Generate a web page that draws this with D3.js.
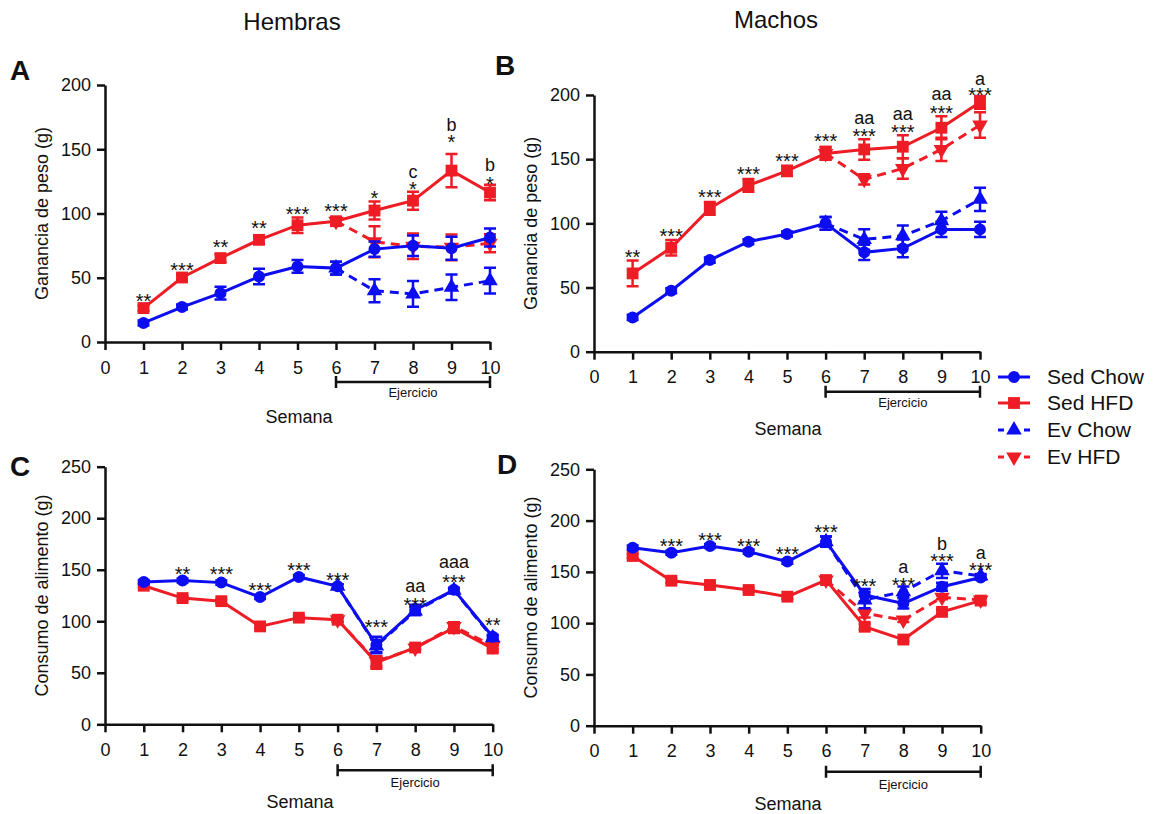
<!DOCTYPE html>
<html>
<head>
<meta charset="utf-8">
<script src="https://cdn.jsdelivr.net/npm/d3@7"></script>
<style>
    body { margin: 0; background: #fff; }
    text { font-family: "Liberation Sans", Arial, sans-serif; fill: #111; }
</style>
</head>
<body>
<div id="chart"></div>
<script>
// semanas
var weeks = [1, 2, 3, 4, 5, 6, 7, 8, 9, 10];
var evWeeks = [6, 7, 8, 9, 10];
var xTicks = [0, 1, 2, 3, 4, 5, 6, 7, 8, 9, 10];
var pesoTicks = [0, 50, 100, 150, 200];
var consumoTicks = [0, 50, 100, 150, 200, 250];

// A - Hembras, ganancia de peso
var aSedChow = [14.8, 27.2, 38, 51, 58.8, 57.5, 72.3, 74.9, 73, 81.3];
var aSedChowErr = [2, 2, 5, 6, 5, 5, 6, 8, 9, 7];
var aSedHfd = [26.4, 50.2, 65.3, 79.5, 90.9, 94, 102.3, 110, 133.4, 116.3];
var aSedHfdErr = [2, 2, 3, 3, 6, 3, 7, 7, 13, 6];
var aEvChow = [57.5, 39.9, 37.4, 42.6, 47.7];
var aEvChowErr = [5, 9, 10, 10, 10];
var aEvHfd = [94, 78, 74.5, 73.7, 76.8];
var aEvHfdErr = [3, 12, 10, 10, 7];
var aStars = [[1, "**", 26.2], [2, "***", 50.6], [3, "**", 68.6], [4, "**", 82.9], [5, "***", 94.1],
    [6, "***", 96.7], [7, "*", 107], [8, "*", 113.6], [9, "*", 149.9], [10, "*", 117.5]];
var aLetters = [[8, "c", 127.4], [9, "b", 164.4], [10, "b", 133.3]];

// B - Machos, ganancia de peso
var bSedChow = [26.7, 47.5, 71.4, 85.7, 91.7, 100, 77.4, 80.5, 95.3, 95.3];
var bSedChowErr = [2, 2, 2, 2, 2, 5, 6, 7, 6, 6];
var bSedHfd = [61, 81, 111.7, 129.6, 140.8, 154.5, 157.6, 159.7, 174.5, 194.3];
var bSedHfdErr = [10, 6, 5, 5, 4, 5, 8, 9, 9, 5];
var bEvChow = [100, 87.5, 90.4, 102, 118.7];
var bEvChowErr = [5, 8, 8, 7, 9];
var bEvHfd = [154.5, 134.3, 142.8, 157.6, 176.6];
var bEvHfdErr = [5, 4, 8, 9, 10];
var bStars = [[1, "**", 68], [2, "***", 84.9], [3, "***", 115.3], [4, "***", 133], [5, "***", 142.8],
    [6, "***", 158.4], [7, "***", 162.3], [8, "***", 165.7], [9, "***", 180.2], [10, "***", 194.3]];
var bLetters = [[7, "aa", 177.4], [8, "aa", 180.5], [9, "aa", 196.1], [10, "a", 207.8]];

// C - Hembras, consumo de alimento
var cSedChow = [138, 139.5, 137.5, 123.5, 143, 134, 77, 111, 130.5, 85];
var cSedChowErr = [2, 2, 2, 2, 2, 2, 8, 5, 2, 2];
var cSedHfd = [134.5, 122.5, 119.5, 95, 103.5, 101.5, 60, 74.5, 93.5, 73.5];
var cSedHfdErr = [2, 2, 2, 2, 2, 2, 6, 2, 5, 3];
var cEvChow = [134, 76, 110, 130, 84];
var cEvChowErr = [2, 6, 4, 2, 2];
var cEvHfd = [101.5, 61, 74, 95, 76];
var cEvHfdErr = [2, 5, 2, 4, 3];
var cStars = [[2, "**", 139.1], [3, "***", 139.1], [4, "***", 123.8], [5, "***", 143.2], [6, "***", 133.5],
    [7, "***", 87.2], [8, "***", 109.3], [9, "***", 130.9], [10, "**", 89.9]];
var cLetters = [[8, "aa", 128.7], [9, "aaa", 151.4]];

// D - Machos, consumo de alimento
var dSedChow = [173.6, 168.7, 175.2, 169.7, 160, 179.4, 127.4, 119.3, 135.5, 144.5];
var dSedChowErr = [2, 2, 2, 2, 2, 5, 6, 5, 4, 2];
var dSedHfd = [165.5, 141.4, 137.2, 132.3, 125.8, 142, 96.5, 84, 111, 122];
var dSedHfdErr = [2, 2, 2, 2, 2, 2, 3, 2, 2, 3];
var dEvChow = [179.4, 122.6, 130.7, 151, 146];
var dEvChowErr = [5, 8, 5, 7, 2];
var dEvHfd = [142, 109.6, 103, 125.2, 122.6];
var dEvHfdErr = [2, 4, 2, 2, 2];
var dStars = [[2, "***", 168.7], [3, "***", 174.2], [4, "***", 168], [5, "***", 160.6], [6, "***", 182.3],
    [7, "***", 129.7], [8, "***", 130.7], [9, "***", 154], [10, "***", 145]];
var dLetters = [[8, "a", 148.6], [9, "b", 171.3], [10, "a", 162.2]];

var legendNames = ["Sed Chow", "Sed HFD", "Ev Chow", "Ev HFD"];

var BLUE = "#0d0df2", RED = "#ee1c24";
var styles = [
    { color: BLUE, dash: null, symbol: d3.symbolCircle, size: 113, rot: 0 },
    { color: RED, dash: null, symbol: d3.symbolSquare, size: 140, rot: 0 },
    { color: BLUE, dash: "9,6", symbol: d3.symbolTriangle, size: 105, rot: 0 },
    { color: RED, dash: "9,6", symbol: d3.symbolTriangle, size: 105, rot: 180 }
];

var svg = d3.select("#chart").append("svg")
    .attr("width", 1156)
    .attr("height", 814);

function drawPanel(p) {
    var x = d3.scaleLinear().domain([0, 10]).range([p.left, p.right]);
    var y = d3.scaleLinear().domain([0, p.max]).range([p.bottom, p.top]);
    var g = svg.append("g");

    // axes
    var xAxis = g.append("g")
        .attr("transform", "translate(0," + p.bottom + ")")
        .call(d3.axisBottom(x).tickValues(xTicks).tickSize(8).tickPadding(11).tickSizeOuter(0));
    var yAxis = g.append("g")
        .attr("transform", "translate(" + p.left + ",0)")
        .call(d3.axisLeft(y).tickValues(p.ticks).tickSize(8).tickPadding(6).tickSizeOuter(0));
    [xAxis, yAxis].forEach(function (a) {
        a.select(".domain").attr("stroke", "#111").attr("stroke-width", 2.5);
        a.selectAll(".tick line").attr("stroke", "#111").attr("stroke-width", 2.5);
        a.selectAll(".tick text").style("font-size", "18px").style("font-family", "Liberation Sans, Arial, sans-serif").attr("fill", "#222");
    });

    // y-axis title
    g.append("text")
        .attr("transform", "translate(" + (p.left - 57) + "," + ((p.top + p.bottom) / 2) + ") rotate(-90)")
        .style("text-anchor", "middle")
        .style("font-size", "18px")
        .text(p.ytitle);

    // exercise bracket
    var by = p.bottom + p.bracket;
    g.append("path")
        .attr("d", "M" + x(6) + "," + (by - 6) + "V" + (by + 6) + "M" + x(6) + "," + by + "H" + x(10) +
            "M" + x(10) + "," + (by - 6) + "V" + (by + 6))
        .attr("stroke", "#111").attr("stroke-width", 2.5).attr("fill", "none");
    g.append("text")
        .attr("x", (x(6) + x(10)) / 2)
        .attr("y", p.bottom + p.ejer)
        .style("text-anchor", "middle")
        .style("font-size", "13px")
        .attr("fill", "#333")
        .text("Ejercicio");
    g.append("text")
        .attr("x", p.semX)
        .attr("y", p.bottom + p.sem)
        .style("text-anchor", "middle")
        .style("font-size", "18px")
        .text("Semana");

    // series: Ev HFD, Ev Chow, Sed HFD, Sed Chow
    var order = [3, 2, 1, 0];
    order.forEach(function (i) {
        var s = p.series[i], st = styles[i];
        var pts = s.x.map(function (w, k) { return { w: w, v: s.v[k], e: s.e[k] }; });
        var eb = g.append("g");
        pts.forEach(function (d) {
            eb.append("path")
                .attr("d", "M" + x(d.w) + "," + y(d.v - d.e) + "V" + y(d.v + d.e) +
                    "M" + (x(d.w) - 6) + "," + y(d.v + d.e) + "H" + (x(d.w) + 6) +
                    "M" + (x(d.w) - 6) + "," + y(d.v - d.e) + "H" + (x(d.w) + 6))
                .attr("stroke", st.color).attr("stroke-width", 2.5).attr("fill", "none");
        });
        g.append("path")
            .datum(pts)
            .attr("d", d3.line().x(function (d) { return x(d.w); }).y(function (d) { return y(d.v); }))
            .attr("stroke", st.color)
            .attr("stroke-width", 3)
            .attr("stroke-dasharray", st.dash)
            .attr("fill", "none");
        g.selectAll(null)
            .data(pts)
            .enter()
            .append("path")
            .attr("d", d3.symbol().type(st.symbol).size(st.size))
            .attr("transform", function (d) {
                return "translate(" + x(d.w) + "," + y(d.v) + ") rotate(" + st.rot + ")";
            })
            .attr("fill", st.color);
    });

    // significance marks
    g.selectAll(null)
        .data(p.stars)
        .enter()
        .append("text")
        .attr("x", function (d) { return x(d[0]); })
        .attr("y", function (d) { return y(d[2]); })
        .style("text-anchor", "middle")
        .style("font-size", "20px")
        .text(function (d) { return d[1]; });
    g.selectAll(null)
        .data(p.letters)
        .enter()
        .append("text")
        .attr("x", function (d) { return x(d[0]); })
        .attr("y", function (d) { return y(d[2]); })
        .style("text-anchor", "middle")
        .style("font-size", "18px")
        .text(function (d) { return d[1]; });

    // panel letter
    svg.append("text")
        .attr("x", p.letterX)
        .attr("y", p.letterY)
        .style("font-size", "28px")
        .style("font-weight", "bold")
        .text(p.letter);
}

function mk(sc, sce, sh, she, ec, ece, eh, ehe) {
    return [
        { x: weeks, v: sc, e: sce },
        { x: weeks, v: sh, e: she },
        { x: evWeeks, v: ec, e: ece },
        { x: evWeeks, v: eh, e: ehe }
    ];
}

drawPanel({
    left: 105, right: 490, top: 85, bottom: 342, max: 200, ticks: pesoTicks,
    ytitle: "Ganancia de peso (g)", bracket: 40, ejer: 55, sem: 81, semX: 299,
    letter: "A", letterX: 10, letterY: 80,
    series: mk(aSedChow, aSedChowErr, aSedHfd, aSedHfdErr, aEvChow, aEvChowErr, aEvHfd, aEvHfdErr),
    stars: aStars, letters: aLetters
});
drawPanel({
    left: 594, right: 980, top: 95, bottom: 351.7, max: 200, ticks: pesoTicks,
    ytitle: "Ganancia de peso (g)", bracket: 40, ejer: 55, sem: 83, semX: 788,
    letter: "B", letterX: 495, letterY: 75,
    series: mk(bSedChow, bSedChowErr, bSedHfd, bSedHfdErr, bEvChow, bEvChowErr, bEvHfd, bEvHfdErr),
    stars: bStars, letters: bLetters
});
drawPanel({
    left: 105, right: 492.7, top: 466.7, bottom: 724.3, max: 250, ticks: consumoTicks,
    ytitle: "Consumo de alimento (g)", bracket: 46, ejer: 63, sem: 84, semX: 300,
    letter: "C", letterX: 10, letterY: 476,
    series: mk(cSedChow, cSedChowErr, cSedHfd, cSedHfdErr, cEvChow, cEvChowErr, cEvHfd, cEvHfdErr),
    stars: cStars, letters: cLetters
});
drawPanel({
    left: 594, right: 980.7, top: 469.3, bottom: 725.7, max: 250, ticks: consumoTicks,
    ytitle: "Consumo de alimento (g)", bracket: 46, ejer: 63, sem: 84, semX: 788,
    letter: "D", letterX: 497, letterY: 474,
    series: mk(dSedChow, dSedChowErr, dSedHfd, dSedHfdErr, dEvChow, dEvChowErr, dEvHfd, dEvHfdErr),
    stars: dStars, letters: dLetters
});

// titles
svg.append("text").attr("x", 292).attr("y", 30).style("text-anchor", "middle").style("font-size", "24px").text("Hembras");
svg.append("text").attr("x", 776).attr("y", 28).style("text-anchor", "middle").style("font-size", "24px").text("Machos");

// legend
var legend = svg.append("g");
var legendY = [377, 403, 430, 457];
legendNames.forEach(function (name, i) {
    var st = styles[i];
    var row = legend.append("g").attr("transform", "translate(0," + legendY[i] + ")");
    row.append("line")
        .attr("x1", 998).attr("x2", 1030)
        .attr("stroke", st.color).attr("stroke-width", 3)
        .attr("stroke-dasharray", st.dash ? "6,20" : null);
    row.append("path")
        .attr("d", d3.symbol().type(st.symbol).size(st.size))
        .attr("transform", "translate(1014,0) rotate(" + st.rot + ")")
        .attr("fill", st.color);
    row.append("text")
        .attr("x", 1047).attr("y", 7)
        .style("font-size", "21px")
        .text(name);
});
</script>
</body>
</html>
